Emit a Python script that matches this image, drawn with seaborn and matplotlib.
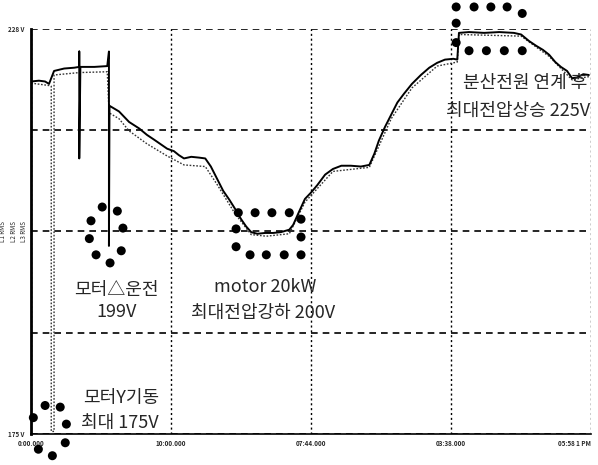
import numpy as np
import pandas as pd
import matplotlib
matplotlib.use("Agg")
import matplotlib.pyplot as plt
import seaborn as sns

sns.set_theme(style="white")
plt.rcParams['font.family'] = ['Noto Sans CJK KR', 'DejaVu Sans']

# ---- data (time in % of record, voltage in V) ----
time_main = [0, 1.4, 2.5, 3.2, 4.1, 5.9, 7.7, 8.6, 8.6, 8.6, 8.8, 11.3, 13.6, 13.9, 13.9,
             14.0, 15.7, 17.5, 19.3, 20.7, 22.0, 24.3, 25.5, 26.4, 27.3, 28.6, 30.0, 31.1,
             32.1, 33.2, 34.3, 35.4, 36.4, 37.5, 38.4, 39.3, 40.4, 41.8, 43.2, 44.6, 46.1,
             46.8, 47.9, 48.9, 50.0, 51.1, 52.5, 53.9, 55.4, 57.1, 58.9, 60.4, 61.3, 62.1,
             63.2, 64.3, 65.4, 66.6, 68.0, 69.6, 71.1, 72.5, 73.9, 75.4, 76.1, 76.4, 78.2,
             80.9, 83.6, 86.2, 87.5, 88.9, 90.2, 91.4, 92.5, 93.6, 94.6, 95.7, 96.6, 97.5,
             98.6, 99.6]
volt_main = [218.5, 218.6, 218.5, 218.2, 219.8, 220.1, 220.2, 220.3, 222.2, 209.0, 220.3,
             220.3, 220.4, 222.2, 198.2,
             215.5, 214.8, 213.5, 212.7, 211.9, 211.3, 210.2, 209.9, 209.4, 209.0, 209.2,
             209.1, 209.0, 208.0, 206.5, 205.0, 203.9, 202.8, 201.5, 200.6, 199.9, 199.7,
             199.8, 199.8, 199.9, 200.2, 200.8, 202.5, 204.0, 204.8, 205.7, 207.0, 207.7,
             208.1, 208.1, 208.0, 208.2, 209.6, 211.2, 212.9, 214.4, 215.9, 217.0, 218.2,
             219.3, 220.2, 220.8, 221.2, 221.3, 221.2, 224.5, 224.6, 224.5, 224.6, 224.5,
             224.3, 223.5, 222.9, 222.4, 221.8, 220.9, 220.3, 219.8, 218.9, 219.0, 219.4,
             219.3]

time_sub = [0, 3.2, 3.6, 3.6, 4.1, 4.1, 8.6, 13.6, 13.9, 14.0, 15.7, 17.5, 20.7, 24.3, 27.3,
            31.1, 33.2, 36.4, 39.3, 42.0, 46.1, 48.9, 53.9, 60.4, 64.3, 68.0, 72.5, 76.1,
            76.4, 87.5, 92.5, 96.6, 99.6]
volt_sub = [218.3, 218.0, 217.9, 175.3, 175.3, 219.3, 219.6, 219.7, 215.0, 214.6, 213.9,
            212.4, 210.8, 209.3, 208.2, 208.0, 205.8, 202.2, 199.6, 199.4, 199.7, 203.6,
            207.4, 207.9, 213.9, 217.7, 220.4, 220.9, 224.3, 224.1, 221.6, 218.7, 219.1]

# hand-drawn dot rings around the marked events
ring_t = [12.7, 15.4, 10.7, 16.4, 10.4, 16.1, 11.6, 14.1,
          0.4, 2.5, 5.2, 6.3, 6.1, 1.3, 3.8,
          37.0, 40.0, 43.0, 46.1, 48.2, 48.2, 48.2, 39.1, 42.0, 45.2, 36.6, 36.6,
          75.9, 79.1, 82.1, 85.0, 87.7, 75.9, 75.9, 78.2, 81.3, 84.5, 87.7]
ring_v = [203.0, 202.5, 201.3, 200.4, 199.1, 197.6, 197.1, 196.1,
          177.0, 178.5, 178.3, 176.2, 173.9, 173.1, 172.3,
          202.3, 202.3, 202.3, 202.3, 201.5, 199.3, 197.1, 197.1, 197.1, 197.1, 200.3, 198.1,
          227.7, 227.7, 227.7, 227.7, 226.9, 225.7, 223.3, 222.3, 222.3, 222.3, 222.3]

x_ticks = [0, 25, 50, 75, 100]
x_labels = ['0:00.000', '10:00.000', '07:44.000', '03:38.000', '05:58 1 PM']
y_ticks = [175, 187.5, 200, 212.5, 225]
y_labels = ['175 V', '', '', '', '228 V']

main_df = pd.DataFrame({'t': time_main, 'v': volt_main})
sub_df = pd.DataFrame({'t': time_sub, 'v': volt_sub})
ring_df = pd.DataFrame({'t': ring_t, 'v': ring_v})

fig = plt.figure(figsize=(5.98, 4.65), dpi=100)
ax = fig.add_axes([0.052, 0.067, 0.9365, 0.871])

sns.lineplot(data=sub_df, x='t', y='v', ax=ax, estimator=None, sort=False,
             color='#333333', lw=1.0, linestyle=(0, (1.2, 1.2)))
sns.lineplot(data=main_df, x='t', y='v', ax=ax, estimator=None, sort=False,
             color='black', lw=1.4)
sns.scatterplot(data=ring_df, x='t', y='v', ax=ax, color='black', s=42,
                edgecolor='none', clip_on=False, zorder=5)

ax.set_xlim(0, 100)
ax.set_ylim(175, 225)
ax.set_xticks(x_ticks)
ax.set_xticklabels(x_labels, fontsize=4.5, fontweight='bold')
ax.get_xticklabels()[-1].set_horizontalalignment('right')
ax.set_yticks(y_ticks)
ax.set_yticklabels(y_labels, fontsize=4.5, fontweight='bold')
ax.tick_params(axis='both', length=3, width=1, color='black', pad=1.5, direction='out')
ax.set_xlabel('')
ax.set_ylabel('L1 RMS\nL2 RMS\nL3 RMS', fontsize=4.5, linespacing=1.4)
ax.yaxis.set_label_coords(-0.005, 0.5)

ax.xaxis.grid(True, color='black', lw=1.0, linestyle=(0, (1.5, 2)))
ax.yaxis.grid(True, color='black', lw=1.2, linestyle=(0, (4, 3)))
for s in ['top', 'right']:
    ax.spines[s].set_visible(False)
ax.spines['left'].set_linewidth(2.0)
ax.spines['left'].set_color('black')
ax.spines['bottom'].set_linewidth(1.2)
ax.spines['bottom'].set_color('black')

fs = 13
ax.text(15.2, 192.7, '모터△운전', fontsize=fs, ha='center', va='center')
ax.text(15.2, 190.1, '199V', fontsize=fs, ha='center', va='center')
ax.text(41.8, 193.1, 'motor 20kW', fontsize=fs, ha='center', va='center')
ax.text(41.5, 189.9, '최대전압강하 200V', fontsize=fs, ha='center', va='center')
ax.text(9.3, 179.4, '모터Y기동', fontsize=fs, ha='left', va='center')
ax.text(8.9, 176.3, '최대 175V', fontsize=fs, ha='left', va='center')
ax.text(99.4, 218.3, '분산전원 연계 후', fontsize=fs, ha='right', va='center')
ax.text(99.8, 214.9, '최대전압상승 225V', fontsize=fs, ha='right', va='center')

fig.savefig('out.png', dpi=100)
